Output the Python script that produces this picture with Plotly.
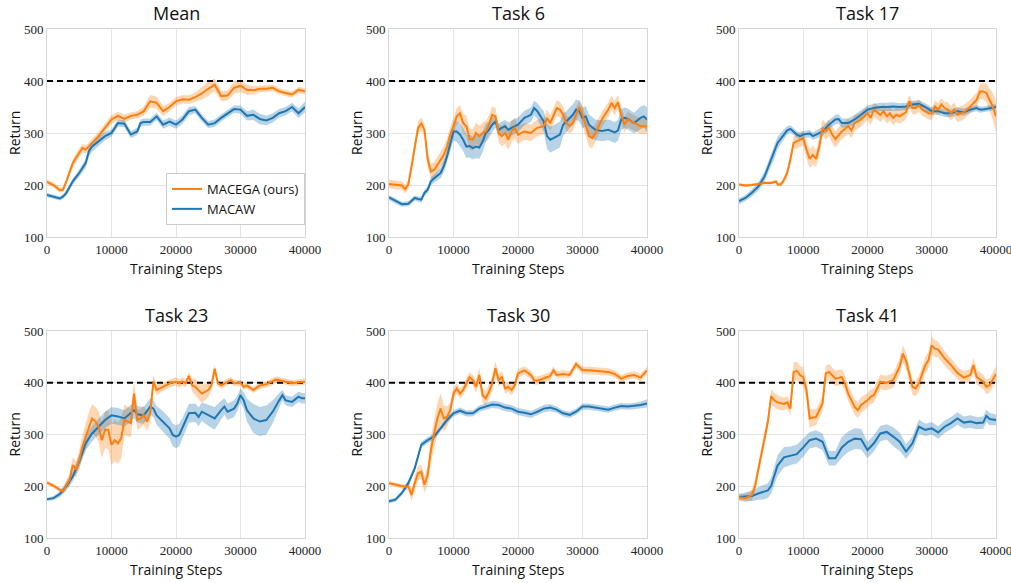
import plotly.graph_objects as go

# ---------------- data: (training step, mean return, spread) ----------------
mean_macega = [
    (0, 206, 5), (1000, 200, 5), (2000, 190, 5), (2500, 191, 5), (3000, 207, 6), (4000, 242, 8),
    (5000, 262, 8), (5500, 271, 8), (6000, 268, 8), (7000, 281, 8), (8000, 294, 8), (9000, 310, 8),
    (10000, 326, 8), (11000, 333, 8), (12000, 327, 8), (13000, 333, 7), (14000, 335, 7), (15000, 342, 9),
    (16000, 361, 12), (17000, 358, 12), (18000, 342, 10), (19000, 350, 8), (20000, 361, 8), (21000, 365, 8),
    (22000, 364, 8), (23000, 369, 9), (24000, 376, 12), (25000, 385, 14), (26000, 393, 12), (27000, 371, 10),
    (28000, 372, 10), (29000, 387, 12), (30000, 391, 12), (31000, 383, 10), (32000, 382, 8), (33000, 385, 6),
    (34000, 385, 6), (35000, 387, 6), (36000, 380, 6), (37000, 377, 6), (38000, 374, 6), (39000, 383, 6),
    (40000, 380, 6),
]
mean_macaw = [
    (0, 181, 4), (1000, 177, 4), (2000, 174, 4), (2500, 178, 4), (3000, 185, 5), (4000, 207, 6),
    (5000, 223, 7), (6000, 242, 9), (6500, 265, 10), (7000, 274, 10), (8000, 284, 9), (9000, 294, 8),
    (10000, 300, 7), (11000, 319, 7), (12000, 318, 7), (13000, 297, 7), (14000, 303, 7), (14500, 319, 7),
    (15000, 321, 7), (16000, 321, 7), (17000, 332, 7), (18000, 316, 8), (19000, 322, 8), (20000, 316, 8),
    (21000, 326, 8), (22000, 342, 8), (23000, 345, 7), (24000, 329, 7), (25000, 316, 7), (26000, 319, 7),
    (27000, 329, 7), (28000, 338, 7), (29000, 346, 7), (30000, 345, 8), (31000, 333, 9), (32000, 335, 10),
    (33000, 327, 10), (34000, 324, 9), (35000, 329, 9), (36000, 338, 8), (37000, 342, 8), (38000, 350, 8),
    (39000, 338, 9), (40000, 350, 10),
]

task6_macega = [
    (0, 202, 8), (1000, 200, 8), (2000, 199, 8), (2500, 192, 8), (3000, 201, 9), (3500, 236, 10),
    (4000, 274, 12), (4500, 310, 12), (5000, 318, 12), (5500, 306, 12), (6000, 249, 14), (6500, 226, 15),
    (7000, 229, 15), (7500, 239, 15), (8000, 249, 15), (8500, 258, 16), (9000, 274, 16), (9500, 297, 16),
    (10000, 313, 16), (10500, 332, 16), (11000, 338, 16), (11500, 319, 18), (12000, 313, 20), (12500, 288, 20),
    (13000, 287, 20), (13500, 300, 20), (14000, 294, 20), (14500, 300, 20), (15000, 303, 20), (15500, 316, 18),
    (16000, 335, 16), (16500, 332, 16), (17000, 300, 18), (17500, 294, 20), (18000, 300, 20), (18500, 287, 20),
    (19000, 303, 20), (19500, 310, 20), (20000, 297, 18), (21000, 303, 16), (22000, 300, 16), (23000, 310, 16),
    (24000, 313, 16), (24500, 329, 16), (25000, 319, 15), (25500, 335, 15), (26000, 348, 15), (26500, 345, 15),
    (27000, 335, 15), (27500, 319, 15), (28000, 314, 15), (28500, 319, 15), (29000, 335, 15), (29500, 350, 15),
    (30000, 335, 16), (30500, 313, 18), (31000, 294, 20), (31500, 290, 20), (32000, 300, 18), (32500, 313, 16),
    (33000, 326, 15), (34000, 345, 14), (34500, 358, 14), (35000, 348, 14), (35500, 359, 14), (36000, 335, 15),
    (36500, 316, 15), (37000, 326, 15), (38000, 319, 15), (39000, 313, 15), (40000, 313, 15),
]
task6_macaw = [
    (0, 176, 5), (1000, 169, 5), (2000, 163, 5), (3000, 164, 5), (4000, 175, 5), (4500, 173, 5),
    (5000, 172, 6), (5500, 185, 6), (6000, 191, 7), (6500, 207, 8), (7000, 213, 8), (8000, 223, 10),
    (8500, 236, 12), (9000, 255, 14), (9500, 281, 16), (10000, 303, 18), (10500, 303, 20), (11000, 297, 22),
    (11500, 287, 22), (12000, 274, 22), (12500, 275, 22), (13000, 271, 22), (13500, 274, 22), (14000, 272, 22),
    (14500, 283, 20), (15000, 300, 18), (15500, 306, 16), (16000, 316, 14), (16500, 322, 12), (17000, 306, 12),
    (17500, 310, 12), (18000, 313, 12), (18500, 306, 14), (19000, 310, 14), (20000, 316, 14), (21000, 329, 14),
    (22000, 335, 14), (22500, 348, 14), (23000, 342, 15), (24000, 322, 20), (24500, 294, 25), (25000, 287, 25),
    (25500, 290, 25), (26000, 294, 25), (26500, 297, 25), (27000, 316, 22), (27500, 322, 20), (28000, 329, 20),
    (28500, 335, 20), (29000, 345, 20), (29500, 342, 20), (30000, 329, 20), (30500, 332, 20), (31000, 316, 20),
    (31500, 310, 20), (32000, 306, 20), (33000, 304, 20), (34000, 306, 20), (35000, 301, 20), (35500, 305, 20),
    (36000, 326, 20), (36500, 329, 20), (37000, 327, 20), (38000, 319, 20), (39000, 329, 22), (39500, 332, 22),
    (40000, 326, 24),
]

task17_macega = [
    (0, 201, 3), (1000, 199, 3), (2000, 200, 3), (3000, 202, 3), (4000, 204, 3), (5000, 204, 3),
    (5800, 207, 3), (6000, 201, 3), (6500, 201, 4), (7000, 210, 6), (7500, 223, 8), (8000, 249, 10),
    (8500, 281, 12), (9000, 284, 14), (9500, 287, 14), (10000, 290, 14), (10500, 268, 16), (11000, 250, 18),
    (11500, 258, 18), (12000, 250, 16), (12500, 274, 16), (13000, 310, 16), (13500, 303, 16), (14000, 310, 16),
    (14500, 297, 16), (15000, 288, 16), (16000, 303, 15), (17000, 313, 15), (17500, 305, 15), (18000, 319, 15),
    (19000, 326, 14), (19500, 333, 14), (20000, 338, 14), (20500, 329, 14), (21000, 345, 14), (22000, 335, 14),
    (22500, 342, 14), (23000, 332, 14), (23500, 338, 14), (24000, 329, 14), (24500, 335, 14), (25000, 332, 14),
    (26000, 340, 14), (26500, 361, 12), (27000, 348, 12), (27500, 348, 12), (28000, 353, 12), (28500, 345, 12),
    (29000, 342, 12), (29500, 338, 12), (30000, 337, 12), (30500, 351, 12), (31000, 345, 12), (31500, 355, 12),
    (32000, 348, 12), (32500, 345, 14), (33000, 338, 14), (33500, 345, 14), (34000, 335, 14), (34500, 337, 14),
    (35000, 340, 14), (36000, 351, 14), (36500, 358, 14), (37000, 364, 14), (37500, 380, 14), (38000, 380, 16),
    (38500, 377, 18), (39000, 364, 22), (39500, 351, 26), (40000, 332, 30),
]
task17_macaw = [
    (0, 169, 6), (1000, 175, 6), (2000, 185, 7), (3000, 197, 8), (4000, 217, 10), (5000, 249, 12),
    (5500, 262, 12), (6000, 281, 12), (7000, 297, 10), (7500, 305, 8), (8000, 308, 7), (8500, 303, 7),
    (9000, 297, 7), (9500, 294, 7), (10000, 297, 7), (11000, 299, 7), (11500, 294, 7), (12000, 297, 8),
    (13000, 303, 9), (14000, 316, 9), (15000, 326, 9), (15500, 327, 9), (16000, 319, 9), (17000, 319, 9),
    (18000, 326, 9), (19000, 335, 9), (20000, 345, 8), (21000, 348, 8), (22000, 350, 8), (23000, 350, 8),
    (24000, 351, 8), (25000, 350, 7), (26000, 351, 7), (27000, 355, 7), (28000, 356, 7), (29000, 350, 7),
    (30000, 342, 7), (31000, 342, 7), (32000, 338, 7), (33000, 338, 7), (34000, 342, 7), (35000, 340, 7),
    (36000, 345, 6), (37000, 348, 6), (37500, 345, 6), (38000, 345, 6), (39000, 348, 6), (40000, 350, 6),
]

task23_macega = [
    (0, 207, 4), (1000, 201, 4), (2000, 193, 4), (2500, 190, 5), (3000, 203, 8), (3500, 212, 12),
    (4000, 241, 15), (4500, 232, 15), (5000, 251, 18), (5500, 277, 22), (6000, 296, 25), (6500, 315, 28),
    (7000, 331, 28), (7500, 325, 28), (8000, 315, 30), (8500, 289, 35), (9000, 309, 35), (9500, 309, 38),
    (10000, 280, 40), (10500, 289, 40), (11000, 283, 40), (11500, 293, 40), (12000, 328, 30), (12500, 325, 28),
    (13000, 322, 28), (13500, 379, 25), (14000, 328, 20), (14500, 331, 18), (15000, 338, 18), (15500, 325, 18),
    (16000, 341, 18), (16500, 402, 14), (17000, 386, 10), (18000, 392, 8), (19000, 399, 8), (20000, 402, 8),
    (20500, 399, 8), (21000, 402, 8), (21500, 399, 8), (22000, 413, 8), (22500, 395, 12), (23000, 392, 16),
    (24000, 379, 18), (25000, 386, 14), (25500, 395, 10), (26000, 427, 8), (26500, 399, 6), (27000, 395, 6),
    (28000, 402, 6), (28500, 405, 6), (29000, 399, 6), (30000, 400, 6), (30500, 392, 6), (31000, 395, 6),
    (32000, 386, 6), (33000, 395, 6), (34000, 397, 6), (35000, 402, 6), (35500, 406, 6), (36000, 405, 6),
    (37000, 402, 6), (38000, 399, 6), (39000, 401, 6), (40000, 402, 6),
]
task23_macaw = [
    (0, 175, 3), (1000, 177, 4), (2000, 185, 6), (3000, 200, 8), (4000, 219, 10), (5000, 248, 12),
    (6000, 283, 14), (7000, 302, 15), (8000, 315, 16), (9000, 328, 16), (10000, 337, 16), (11000, 335, 16),
    (12000, 331, 16), (13000, 341, 16), (13500, 347, 16), (14000, 339, 16), (15000, 337, 16), (16000, 354, 16),
    (16500, 350, 16), (17000, 337, 18), (18000, 325, 20), (19000, 312, 20), (19500, 299, 22), (20000, 296, 22),
    (20500, 299, 22), (21000, 312, 20), (22000, 341, 18), (23000, 342, 18), (23500, 334, 18), (24000, 344, 18),
    (25000, 337, 20), (26000, 331, 22), (27000, 347, 18), (27500, 354, 16), (28000, 344, 16), (29000, 350, 16),
    (29500, 360, 15), (30000, 376, 14), (30500, 366, 16), (31000, 347, 22), (32000, 331, 28), (33000, 325, 28),
    (34000, 328, 28), (35000, 344, 22), (36000, 366, 14), (36500, 376, 10), (37000, 366, 10), (38000, 363, 10),
    (39000, 373, 10), (39500, 370, 10), (40000, 370, 10),
]

task30_macega = [
    (0, 206, 4), (1000, 203, 4), (2000, 200, 4), (2500, 199, 5), (3000, 200, 8), (3500, 183, 12),
    (4000, 206, 14), (4500, 225, 14), (5000, 228, 14), (5500, 203, 16), (6000, 222, 18), (6500, 270, 25),
    (7000, 302, 28), (7500, 331, 30), (8000, 350, 30), (8500, 331, 25), (9000, 334, 20), (9500, 347, 15),
    (10000, 379, 12), (10500, 389, 10), (11000, 379, 10), (11500, 386, 10), (12000, 399, 10), (12500, 411, 10),
    (13000, 405, 10), (13500, 392, 12), (14000, 415, 14), (14500, 376, 14), (15000, 370, 14), (15500, 382, 14),
    (16000, 399, 14), (16500, 428, 14), (17000, 405, 12), (17500, 411, 12), (18000, 389, 10), (18500, 392, 10),
    (19000, 386, 10), (19500, 395, 10), (20000, 418, 8), (21000, 424, 8), (22000, 415, 8), (22500, 405, 8),
    (23000, 404, 8), (24000, 408, 8), (25000, 413, 8), (25500, 424, 8), (26000, 415, 7), (27000, 417, 7),
    (28000, 415, 7), (29000, 436, 7), (30000, 424, 7), (31000, 424, 7), (32000, 423, 7), (33000, 421, 7),
    (34000, 421, 7), (35000, 417, 7), (36000, 408, 7), (37000, 413, 7), (38000, 415, 7), (39000, 410, 7),
    (40000, 424, 7),
]
task30_macaw = [
    (0, 171, 4), (1000, 174, 4), (2000, 187, 5), (3000, 206, 6), (4000, 235, 6), (5000, 280, 6),
    (6000, 289, 6), (7000, 296, 6), (8000, 312, 6), (9000, 328, 6), (10000, 341, 6), (11000, 346, 6),
    (12000, 341, 6), (13000, 341, 6), (14000, 350, 6), (15000, 354, 6), (16000, 358, 7), (17000, 357, 7),
    (18000, 352, 7), (19000, 350, 7), (20000, 344, 7), (21000, 342, 7), (22000, 339, 7), (23000, 344, 7),
    (24000, 350, 7), (25000, 352, 7), (26000, 348, 6), (27000, 341, 6), (28000, 338, 6), (29000, 344, 6),
    (30000, 354, 6), (31000, 354, 6), (32000, 352, 6), (33000, 350, 6), (34000, 348, 6), (35000, 352, 6),
    (36000, 355, 6), (37000, 354, 6), (38000, 355, 6), (39000, 357, 7), (40000, 360, 8),
]

task41_macega = [
    (0, 179, 6), (1000, 177, 8), (2000, 183, 10), (2500, 200, 12), (3000, 232, 12), (3500, 264, 12),
    (4000, 296, 12), (4500, 325, 12), (5000, 374, 14), (5500, 366, 14), (6000, 362, 14), (7000, 359, 12),
    (7500, 362, 12), (8000, 350, 14), (8500, 421, 18), (9000, 423, 18), (9500, 415, 18), (10000, 411, 18),
    (10500, 386, 20), (11000, 331, 18), (12000, 334, 15), (12500, 347, 15), (13000, 360, 15), (13500, 418, 15),
    (14000, 421, 15), (15000, 408, 15), (16000, 411, 15), (16500, 399, 15), (17000, 379, 15), (18000, 353, 15),
    (18500, 347, 15), (19000, 357, 15), (20000, 366, 14), (20500, 373, 14), (21000, 376, 14), (22000, 402, 14),
    (22500, 400, 14), (23000, 400, 14), (24000, 405, 14), (25000, 431, 16), (25500, 456, 16), (26000, 443, 16),
    (27000, 392, 15), (27500, 389, 15), (28000, 399, 15), (29000, 434, 16), (29500, 444, 16), (30000, 472, 18),
    (30500, 466, 16), (31000, 464, 15), (32000, 447, 14), (33000, 434, 14), (34000, 419, 12), (35000, 410, 12),
    (36000, 415, 12), (36500, 434, 14), (37000, 411, 14), (38000, 402, 14), (38500, 392, 14), (39000, 395, 14),
    (40000, 417, 15),
]
task41_macaw = [
    (0, 179, 6), (1000, 180, 8), (2000, 181, 10), (3000, 186, 12), (4000, 189, 14), (4500, 192, 14),
    (5000, 201, 16), (6000, 240, 20), (7000, 256, 20), (8000, 259, 18), (9000, 262, 18), (10000, 275, 18),
    (11000, 289, 16), (12000, 292, 16), (13000, 286, 16), (14000, 254, 14), (15000, 254, 14), (16000, 275, 20),
    (17000, 286, 20), (18000, 292, 20), (19000, 291, 20), (20000, 270, 16), (21000, 283, 16), (22000, 302, 15),
    (23000, 305, 15), (24000, 296, 18), (25000, 286, 18), (26000, 267, 14), (27000, 283, 14), (28000, 315, 14),
    (29000, 309, 12), (30000, 312, 12), (31000, 304, 12), (32000, 315, 12), (33000, 322, 12), (34000, 331, 12),
    (35000, 323, 12), (36000, 325, 12), (37000, 322, 12), (38000, 323, 12), (38500, 336, 12), (39000, 330, 12),
    (40000, 328, 10),
]

panel_titles = ["Mean", "Task 6", "Task 17", "Task 23", "Task 30", "Task 41"]
panel_series = [
    (mean_macega, mean_macaw), (task6_macega, task6_macaw), (task17_macega, task17_macaw),
    (task23_macega, task23_macaw), (task30_macega, task30_macaw), (task41_macega, task41_macaw),
]
series_names = ["MACEGA (ours)", "MACAW"]
target_return = 400
x_ticks = [0, 10000, 20000, 30000, 40000]
y_ticks = [100, 200, 300, 400, 500]

# ---------------- styling / layout ----------------
W, H = 1011, 583
line_colors = ["#ff7f0e", "#1f77b4"]
band_colors = ["rgba(255,127,14,0.32)", "rgba(31,119,180,0.32)"]
col_px = [(47, 305), (389, 647), (739, 996)]
row_px = [(29, 237), (331, 538)]
sans = "Open Sans"
serif = "Liberation Serif"


def fx(v):  # window x pixel -> paper fraction
    return v / W


def fy(v):  # window y pixel -> paper fraction (from bottom)
    return 1 - v / H


fig = go.Figure()
annotations = []

for i, (title, series) in enumerate(zip(panel_titles, panel_series)):
    r, c = divmod(i, 3)
    x0, x1 = col_px[c]
    top, bot = row_px[r]
    n = i + 1
    xa = "x" if n == 1 else f"x{n}"
    ya = "y" if n == 1 else f"y{n}"
    xkey = "xaxis" if n == 1 else f"xaxis{n}"
    ykey = "yaxis" if n == 1 else f"yaxis{n}"

    axis_common = dict(
        showgrid=True, gridcolor="#e3e3e3", gridwidth=1,
        showline=True, linecolor="#d6d6d6", linewidth=1, mirror=True,
        zeroline=False, ticks="", automargin=False, ticklabeloverflow="allow",
        tickfont=dict(family=serif, size=13, color="#222"),
    )
    fig.update_layout(**{
        xkey: dict(domain=[fx(x0), fx(x1)], anchor=ya, range=[0, 40000],
                   tickvals=x_ticks, ticktext=[str(v) for v in x_ticks], **axis_common),
        ykey: dict(domain=[fy(bot), fy(top)], anchor=xa, range=[100, 500],
                   tickvals=y_ticks, ticktext=[str(v) for v in y_ticks], **axis_common),
    })

    # bands first
    for k, data in enumerate(series):
        xs = [p[0] for p in data]
        up = [p[1] + p[2] for p in data]
        lo = [p[1] - p[2] for p in data]
        fig.add_trace(go.Scatter(
            x=xs + xs[::-1], y=up + lo[::-1], fill="toself", fillcolor=band_colors[k],
            line=dict(width=0), mode="lines", hoverinfo="skip", showlegend=False,
            xaxis=xa, yaxis=ya,
        ))
    # dashed target line
    fig.add_trace(go.Scatter(
        x=[0, 40000], y=[target_return, target_return], mode="lines",
        line=dict(color="black", width=2, dash="6px,4px"), showlegend=False,
        hoverinfo="skip", xaxis=xa, yaxis=ya,
    ))
    # mean lines (MACAW drawn first, MACEGA on top)
    for k in [1, 0]:
        data = series[k]
        fig.add_trace(go.Scatter(
            x=[p[0] for p in data], y=[p[1] for p in data], mode="lines",
            line=dict(color=line_colors[k], width=2), name=series_names[k],
            showlegend=(i == 0), legendrank=k + 1, xaxis=xa, yaxis=ya,
        ))

    xc = fx((x0 + x1) / 2)
    annotations.append(dict(text=title, x=xc, y=fy(top - 16), xref="paper", yref="paper",
                            showarrow=False, font=dict(family=sans, size=18, color="#111"),
                            xanchor="center", yanchor="middle"))
    annotations.append(dict(text="Training Steps", x=xc, y=fy(bot + 31), xref="paper", yref="paper",
                            showarrow=False, font=dict(family=sans, size=14, color="#111"),
                            xanchor="center", yanchor="middle"))
    annotations.append(dict(text="Return", x=fx(x0 - 33), y=fy((top + bot) / 2), xref="paper",
                            yref="paper", showarrow=False, textangle=-90,
                            font=dict(family=sans, size=14, color="#111"),
                            xanchor="center", yanchor="middle"))

fig.update_layout(
    width=W, height=H, margin=dict(l=0, r=0, t=0, b=0, autoexpand=False),
    paper_bgcolor="white", plot_bgcolor="white",
    annotations=annotations,
    legend=dict(x=fx(305), y=fy(173), xanchor="right", yanchor="top",
                bgcolor="white", bordercolor="#cccccc", borderwidth=1,
                font=dict(family=sans, size=13, color="#111"),
                tracegroupgap=2, itemwidth=30),
)

# remove the browser's default 8px body margin so the figure fills the window exactly
fig.write_html("out.html", config={"displayModeBar": False},
               post_script="document.body.style.margin='0px';")
